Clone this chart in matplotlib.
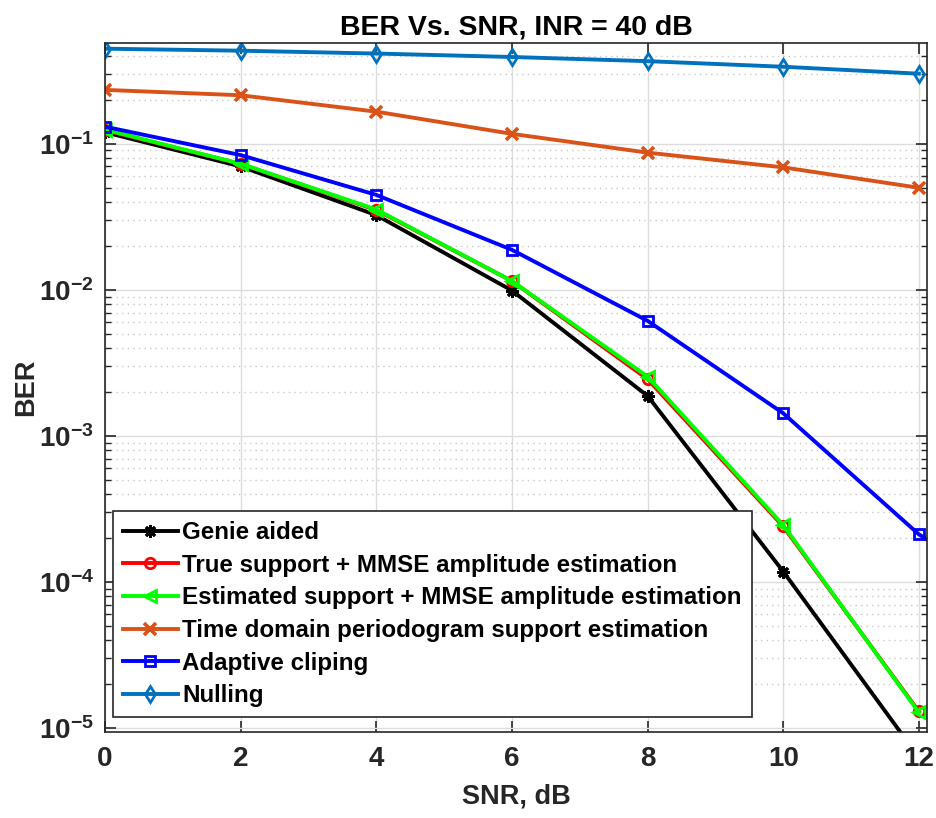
import numpy as np
import matplotlib.pyplot as plt
from matplotlib.ticker import LogLocator, NullFormatter

plt.rcParams["font.family"] = ["Liberation Sans", "DejaVu Sans"]
plt.rcParams["font.weight"] = "bold"
plt.rcParams["mathtext.fontset"] = "custom"
plt.rcParams["mathtext.rm"] = "Liberation Sans:bold"
plt.rcParams["mathtext.bf"] = "Liberation Sans:bold"
plt.rcParams["mathtext.default"] = "bf"

# ---- data ----
snr = [0, 2, 4, 6, 8, 10, 12]
snr_ext = [0, 2, 4, 6, 8, 10, 12, 14]

ber_genie = [0.120, 0.0700, 0.0325, 0.0099, 0.00188, 1.18e-4, 6.3e-6]
ber_true = [0.124, 0.0728, 0.0352, 0.0115, 0.00245, 2.4e-4, 1.30e-5]
ber_est = [0.125, 0.0730, 0.0355, 0.0115, 0.00255, 2.45e-4, 1.28e-5]
ber_time = [0.234, 0.215, 0.166, 0.117, 0.087, 0.069, 0.050]
ber_clip = [0.131, 0.0837, 0.0447, 0.0188, 0.00614, 0.00143, 2.12e-4, 5.5e-5]
ber_null = [0.448, 0.434, 0.415, 0.393, 0.368, 0.337, 0.302]

labels = [
    "Genie aided",
    "True support + MMSE amplitude estimation",
    "Estimated support + MMSE amplitude estimation",
    "Time domain periodogram support estimation",
    "Adaptive cliping",
    "Nulling",
]

GRAY = "#262626"

fig = plt.figure(figsize=(9.36, 8.18), dpi=100)
ax = fig.add_axes([105 / 936, 1 - 732 / 818, (927 - 105) / 936, (732 - 43) / 818])

lw = 2.8
ax.plot(snr, ber_genie, color="black", lw=lw, marker=(8, 2, 0), ms=9, mew=2.0, label=labels[0])
ax.plot(snr, ber_true, color="#ff0000", lw=lw, marker="o", ms=7.5, mfc="none", mew=2.0, label=labels[1])
ax.plot(snr, ber_est, color="#00ff00", lw=lw, marker="<", ms=8.5, mfc="none", mew=2.0, label=labels[2])
ax.plot(snr, ber_time, color="#D95319", lw=lw, marker="x", ms=9, mew=2.6, label=labels[3])
ax.plot(snr_ext, ber_clip, color="#0000ff", lw=lw, marker="s", ms=7.5, mfc="none", mew=2.0, label=labels[4])
ax.plot(snr, ber_null, color="#0072BD", lw=lw, marker="d", ms=8.5, mfc="none", mew=2.0, label=labels[5])

ax.set_yscale("log")
ax.set_xlim(0, 12.12)
ax.set_ylim(9.4e-6, 0.49)
ax.set_xticks([0, 2, 4, 6, 8, 10, 12])
ax.yaxis.set_major_locator(LogLocator(base=10, numticks=10))
ax.yaxis.set_minor_locator(LogLocator(base=10, subs=np.arange(2, 10), numticks=20))
ax.yaxis.set_minor_formatter(NullFormatter())

ax.grid(True, which="major", color="#dcdcdc", lw=1.0)
ax.grid(True, which="minor", axis="y", color="#c8c8c8", lw=1.0, linestyle=(0, (1, 3)))
ax.set_axisbelow(True)

ax.tick_params(which="both", direction="in", top=True, right=True, colors=GRAY)
ax.tick_params(which="major", length=8, width=1.2, labelsize=20)
ax.tick_params(axis="x", which="major", pad=10)
ax.tick_params(axis="y", which="major", pad=8)
ax.tick_params(which="minor", length=4, width=1.0)
for s in ax.spines.values():
    s.set_color(GRAY)
    s.set_linewidth(1.2)

ax.set_xlabel("SNR, dB", fontsize=19.5, fontweight="bold", color=GRAY, labelpad=8)
ax.set_ylabel("BER", fontsize=19.5, fontweight="bold", color=GRAY, labelpad=0)
ax.set_title("BER Vs. SNR, INR = 40 dB", fontsize=20.5, fontweight="bold", pad=6)

leg = ax.legend(
    loc="lower left",
    bbox_to_anchor=(8 / 822, 15 / 689),
    fontsize=17.4,
    frameon=True,
    fancybox=False,
    framealpha=1,
    edgecolor=GRAY,
    handlelength=2.27,
    handletextpad=0.2,
    labelspacing=0.4,
    borderpad=0.4,
    borderaxespad=0,
)
leg.get_frame().set_linewidth(1.2)
for t in leg.get_texts():
    t.set_color("black")

fig.savefig("out.png", dpi=100)
